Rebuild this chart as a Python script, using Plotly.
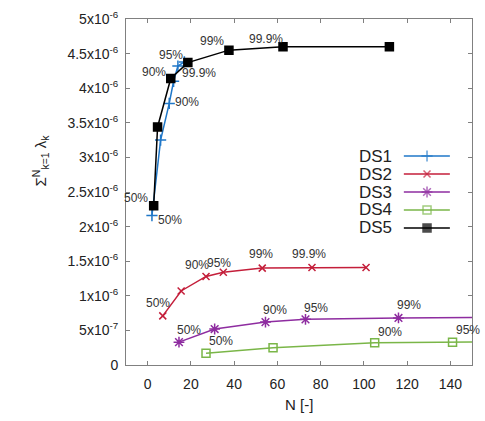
import plotly.graph_objects as go

# ---------------- data ----------------
ds1_x = [2, 6, 10, 12, 14, 17]
ds1_y = [2.16e-6, 3.25e-6, 3.78e-6, 4.10e-6, 4.32e-6, 4.38e-6]

ds2_x = [7, 15.5, 27, 35, 53, 76, 101]
ds2_y = [0.71e-6, 1.07e-6, 1.28e-6, 1.34e-6, 1.40e-6, 1.41e-6, 1.41e-6]

ds3_x = [14.5, 31, 54.5, 73, 116, 170]
ds3_y = [0.33e-6, 0.52e-6, 0.62e-6, 0.66e-6, 0.68e-6, 0.69e-6]

ds4_x = [27, 58, 105, 141, 180]
ds4_y = [0.17e-6, 0.25e-6, 0.32e-6, 0.33e-6, 0.34e-6]

ds5_x = [2.8, 4.6, 10.7, 18.6, 37.6, 62.6, 111.8]
ds5_y = [2.30e-6, 3.44e-6, 4.14e-6, 4.37e-6, 4.55e-6, 4.60e-6, 4.60e-6]

series_names = ["DS1", "DS2", "DS3", "DS4", "DS5"]

# percentage labels: (text, x, y)
label_text = ["50%", "90%", "95%", "99.9%", "90%", "99%", "99.9%", "50%",
              "50%", "90%", "95%", "99%", "99.9%",
              "50%", "90%", "95%", "99%",
              "50%", "90%", "95%"]
label_x = [-5.6, 2.8, 10.7, 23.7, 18, 29.8, 54.9, 10.5,
           4.7, 23, 33, 52.6, 74.4,
           19, 59, 77.7, 121,
           34, 112, 148]
label_y = [2.41e-6, 4.24e-6, 4.48e-6, 4.22e-6, 3.80e-6, 4.68e-6, 4.71e-6, 2.10e-6,
           0.89e-6, 1.44e-6, 1.48e-6, 1.61e-6, 1.60e-6,
           0.50e-6, 0.79e-6, 0.82e-6, 0.86e-6,
           0.35e-6, 0.48e-6, 0.50e-6]

x_ticks = [0, 20, 40, 60, 80, 100, 120, 140]
y_ticks = [0, 0.5e-6, 1e-6, 1.5e-6, 2e-6, 2.5e-6, 3e-6, 3.5e-6, 4e-6, 4.5e-6, 5e-6]
y_ticktext = ["0", "5x10<sup>-7</sup>", "1x10<sup>-6</sup>", "1.5x10<sup>-6</sup>",
              "2x10<sup>-6</sup>", "2.5x10<sup>-6</sup>", "3x10<sup>-6</sup>",
              "3.5x10<sup>-6</sup>", "4x10<sup>-6</sup>", "4.5x10<sup>-6</sup>",
              "5x10<sup>-6</sup>"]

# ---------------- styles ----------------
colors = ["#1f77c8", "#c41e3a", "#8e2ca0", "#7ab648", "#000000"]
symbols = ["cross-thin-open", "x-thin-open", "asterisk-open", "square-open", "square"]
sizes = [8, 7, 9, 8, 8]

FONT = "Liberation Sans, Arial, sans-serif"

fig = go.Figure()
xs = [ds1_x, ds2_x, ds3_x, ds4_x, ds5_x]
ys = [ds1_y, ds2_y, ds3_y, ds4_y, ds5_y]
order = [3, 2, 1, 0, 4]
for i in order:
    fig.add_trace(go.Scatter(
        x=xs[i], y=ys[i], mode="lines+markers", name=series_names[i],
        line=dict(color=colors[i], width=1.5),
        marker=dict(symbol=symbols[i], size=sizes[i], color=colors[i],
                    line=dict(color=colors[i], width=1.5)),
        showlegend=False,
    ))

# manual gnuplot-style legend on a hidden overlay axis (0..1 over plot area)
leg_rows = [0.604, 0.552, 0.500, 0.448, 0.396]
for i, name in enumerate(series_names):
    yy = leg_rows[i]
    fig.add_trace(go.Scatter(
        x=[0.803, 0.870, 0.936], y=[yy, yy, yy], xaxis="x2", yaxis="y2",
        mode="lines+markers", showlegend=False, hoverinfo="skip",
        line=dict(color=colors[i], width=1.5),
        marker=dict(symbol=symbols[i], size=[0, sizes[i], 0], color=colors[i],
                    line=dict(color=colors[i], width=1.5)),
    ))
    fig.add_annotation(x=0.775, y=yy, xref="x2", yref="y2", text=name,
                       showarrow=False, xanchor="right", yanchor="middle",
                       font=dict(family=FONT, size=17, color="#222"))

for t, lx, ly in zip(label_text, label_x, label_y):
    fig.add_annotation(x=lx, y=ly, text=t, showarrow=False,
                       font=dict(family=FONT, size=12, color="#333"))

# axis titles
fig.add_annotation(x=-0.283, y=0.59, xref="paper", yref="paper",
                   text="Σ<sup>N</sup><sub>k=1</sub> λ<sub>k</sub>",
                   textangle=-90, showarrow=False,
                   font=dict(family=FONT, size=15, color="#222"))
fig.add_annotation(x=0.5, y=-0.085, xref="paper", yref="paper",
                   text="N [-]", showarrow=False, yanchor="top",
                   font=dict(family=FONT, size=15, color="#222"))

axis_common = dict(showgrid=False, zeroline=False, showline=True, mirror="ticks",
                   linecolor="#808080", linewidth=1, ticks="inside", ticklen=4,
                   tickcolor="#808080", tickwidth=1, automargin=False,
                   tickfont=dict(family=FONT, size=14, color="#222"))

fig.update_layout(
    width=485, height=421,
    margin=dict(l=126, r=13, t=19, b=56),
    paper_bgcolor="white", plot_bgcolor="white",
    xaxis=dict(range=[-10, 150], tickvals=x_ticks, ticklabelstandoff=6, **axis_common),
    yaxis=dict(range=[0, 5e-6], tickvals=y_ticks, ticktext=y_ticktext,
               ticklabelstandoff=4, **axis_common),
    xaxis2=dict(range=[0, 1], overlaying="x", visible=False, anchor="y2"),
    yaxis2=dict(range=[0, 1], overlaying="y", visible=False, anchor="x2"),
    showlegend=False,
    hovermode=False,
)

fig.write_html("out.html", config={"displayModeBar": False},
               post_script="document.body.style.margin='0';document.body.style.overflow='hidden';")
